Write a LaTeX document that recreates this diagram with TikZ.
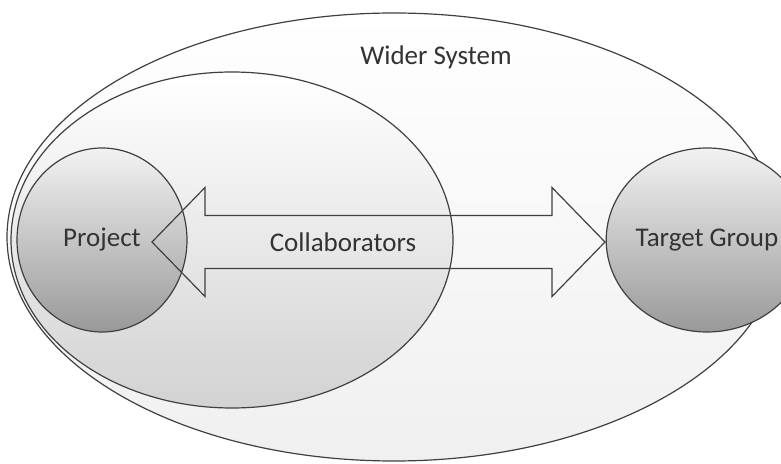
\documentclass[tikz,border=0pt]{standalone}
\usepackage{fontspec}
\setmainfont{Carlito}
\usetikzlibrary{positioning, calc, shapes.geometric}

\begin{document}
\begin{tikzpicture}[x=0.5pt, y=-0.5pt, font=\fontsize{13.5}{16}\selectfont,
    oval/.style={ellipse, draw=black!75, line width=0.6pt, inner sep=0pt},
    group/.style={oval, top color=gray!10, bottom color=gray!80,
    minimum width=85pt, minimum height=92pt, text=black!80}]

  \useasboundingbox (0,0) rectangle (781,464);
  \node[oval, top color=white, bottom color=gray!12,
    minimum width=387pt, minimum height=224pt] (wider) at (394,237) {};
  \node[oval, top color=white, bottom color=gray!35,
    minimum width=221pt, minimum height=168pt] (collab) at (232,240) {};
  \node[group] (proj) at (102,240) {Project};
  \node[group, right=209pt of proj] (tgt) {Target Group};
  % two-headed flow arrow between project and target group
  \coordinate (mid) at ($(proj)!0.457!(tgt)+(0,2)$);
  \draw[draw=black!75, line width=0.6pt, shift={(mid)}]
    (-226.5,0) -- (-173.5,-54.5) -- (-173.5,-26.5) -- (173.5,-26.5)
    -- (173.5,-54.5) -- (226.5,0) -- (173.5,54.5) -- (173.5,26.5)
    -- (-173.5,26.5) -- (-173.5,54.5) -- cycle;
  \node[text=black!80] (wlabel) at (436,57) {Wider System};
  \node[text=black!80] (clabel) at (343,242) {Collaborators};
\end{tikzpicture}
\end{document}
